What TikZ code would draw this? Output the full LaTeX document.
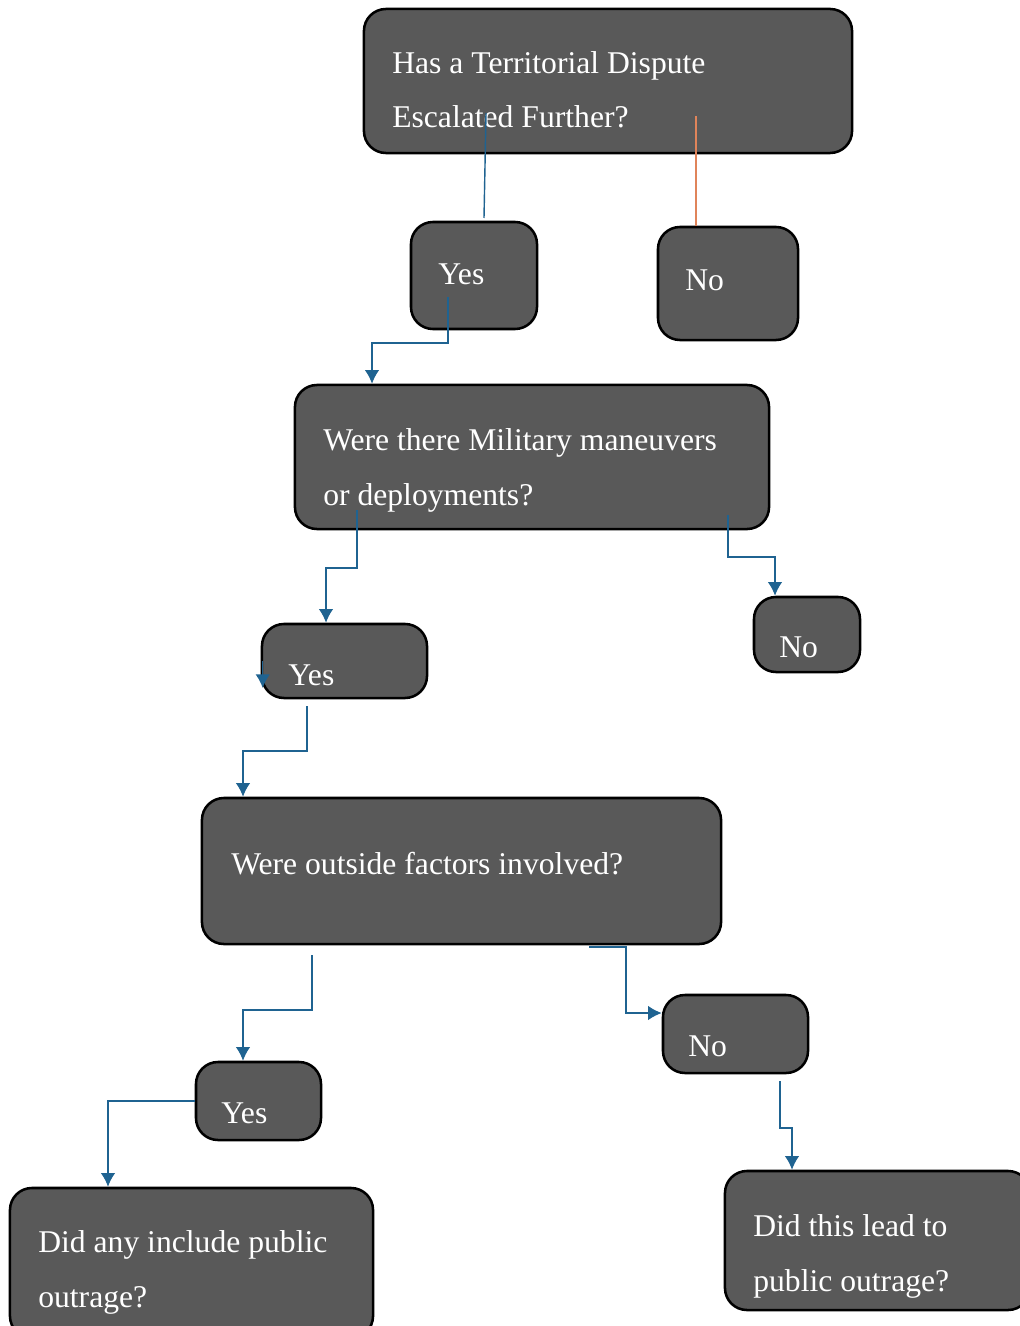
\documentclass[tikz,border=0pt]{standalone}
\usepackage{fontspec}
\setmainfont{Liberation Serif}
\usetikzlibrary{arrows.meta}
\definecolor{grigio}{HTML}{595959}
\definecolor{blu}{HTML}{1F6391}
\definecolor{arancio}{HTML}{E0845A}
\begin{document}
\begin{tikzpicture}[x=0.025cm,y=-0.025cm,
    box/.style={draw=black,line width=1.8pt,fill=grigio,rounded corners=0.55cm},
    testo/.style={text=white,inner sep=0pt,align=left,anchor=base west,
        font=\fontsize{22.5}{39}\selectfont},
    linea/.style={draw=blu,line width=1pt},
    freccia/.style={linea,-{Latex[length=0.34cm,width=0.36cm]}}]
        \useasboundingbox (0,0) rectangle (1019,1326);
        %domanda 1
            \node[box,minimum width=12.2cm,minimum height=3.6cm](q1) at (608,81){};
            \node[testo](tq1) at (392,128){Has a Territorial Dispute\\Escalated Further?};
        %risposte 1
            \node[box,minimum width=3.15cm,minimum height=2.675cm](si1) at (474,275.5){};
            \node[testo](tsi1) at (438,284){Yes};
            \node[box,minimum width=3.5cm,minimum height=2.825cm](no1) at (728,283.5){};
            \node[testo](tno1) at (685,290){No};
        %domanda 2
            \node[box,minimum width=11.85cm,minimum height=3.6cm](q2) at (532,457){};
            \node[testo](tq2) at (323,505){Were there Military maneuvers\\or deployments?};
        %risposte 2
            \node[box,minimum width=4.125cm,minimum height=1.85cm](si2) at (344.5,661){};
            \node[testo](tsi2) at (288,685){Yes};
            \node[box,minimum width=2.65cm,minimum height=1.875cm](no2) at (807,634.5){};
            \node[testo](tno2) at (779,657){No};
        %domanda 3
            \node[box,minimum width=12.975cm,minimum height=3.65cm](q3) at (461.5,871){};
            \node[testo](tq3) at (231,874){Were outside factors involved?};
        %risposte 3
            \node[box,minimum width=3.125cm,minimum height=1.95cm](si3) at (258.5,1101){};
            \node[testo](tsi3) at (221,1123){Yes};
            \node[box,minimum width=3.625cm,minimum height=1.95cm](no3) at (735.5,1034){};
            \node[testo](tno3) at (688,1056){No};
        %domande finali
            \node[box,minimum width=9.075cm,minimum height=3.75cm](q4a) at (191.5,1263){};
            \node[testo](tq4a) at (38,1307){Did any include public\\outrage?};
            \node[box,minimum width=7.625cm,minimum height=3.475cm](q4b) at (877.5,1240.5){};
            \node[testo](tq4b) at (753,1291){Did this lead to\\public outrage?};
        %punti dei collegamenti
            \coordinate (sI) at (486,113);
            \coordinate (eI) at (484,218);
            \coordinate (sJ) at (696,116);
            \coordinate (sA) at (448,297);
            \coordinate (kA) at (372,343);
            \coordinate (sB) at (357,510);
            \coordinate (kB) at (326,568);
            \coordinate (sC) at (728,515);
            \coordinate (kC) at (775,557);
            \coordinate (sD) at (307,706);
            \coordinate (kD) at (243,751);
            \coordinate (sE) at (312,955);
            \coordinate (kE) at (243,1010);
            \coordinate (sF) at (589,947);
            \coordinate (kF) at (626,1013);
            \coordinate (kG) at (108,1101);
            \coordinate (sH) at (780,1081);
            \coordinate (kH) at (792,1128);
        %collegamenti
            \draw[linea](sI)--(eI);
            \draw[draw=arancio,line width=1pt](sJ)--(sJ |- no1.north);
            \draw[freccia](sA)|-(kA)--(kA |- q2.north);
            \draw[freccia](sB)|-(kB)--(kB |- si2.north);
            \draw[freccia](sC)|-(kC)--(kC |- no2.north);
            \draw[freccia]([xshift=0.05cm]si2.west)--++(0,27);
            \draw[freccia](sD)|-(kD)--(kD |- q3.north);
            \draw[freccia](sE)|-(kE)--(kE |- si3.north);
            \draw[freccia](sF)-|(kF)--(kF -| no3.west);
            \draw[freccia](si3.west)-|(kG |- q4a.north);
            \draw[freccia](sH)|-(kH)--(kH |- q4b.north);
\end{tikzpicture}
\end{document}
